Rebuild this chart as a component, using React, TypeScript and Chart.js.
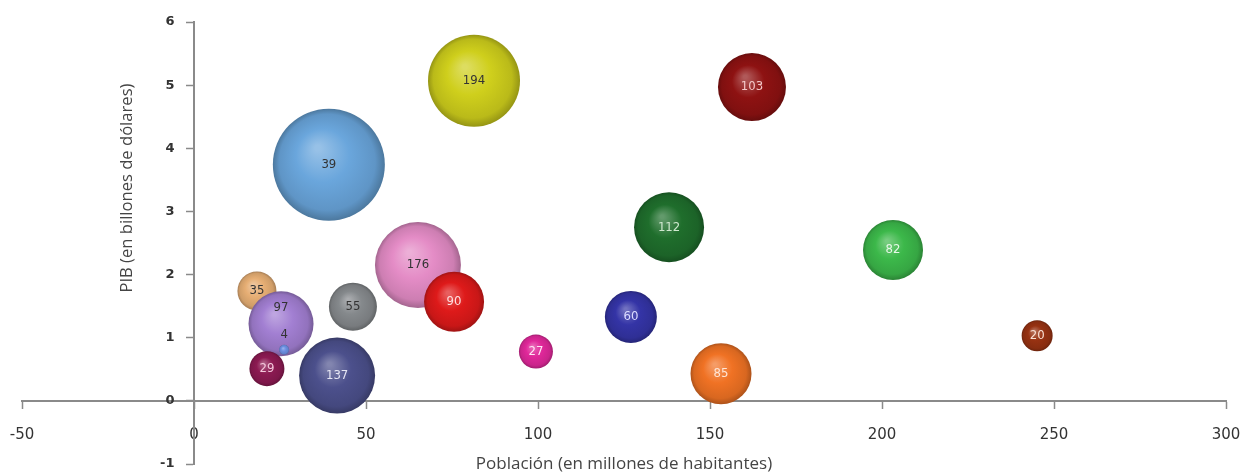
import React, { useEffect, useRef } from "react";
import { Chart, registerables } from "chart.js";

Chart.register(...registerables);

// ---- data ----
const etiquetas = ["194", "103", "39", "112", "82", "176", "35", "97", "4", "55", "90", "60", "27", "29", "137", "85", "20"];
const poblacion = [81.4, 162.2, 39.2, 138.1, 203.2, 65.1, 18.3, 25.3, 26.2, 46.2, 75.6, 127.0, 99.4, 21.2, 41.6, 153.2, 245.1];
const pib = [5.07, 4.97, 3.74, 2.75, 2.39, 2.15, 1.74, 1.22, 0.81, 1.49, 1.57, 1.33, 0.78, 0.51, 0.4, 0.43, 1.03];
const tamanos = [46, 34, 56, 35, 30, 43, 19.5, 32.5, 5, 24, 30, 26, 17, 17.5, 38, 30.5, 15.5];

const xTicks = [-50, 0, 50, 100, 150, 200, 250, 300];
const yTicks = [-1, 0, 1, 2, 3, 4, 5, 6];

const xTitulo = "Población (en millones de habitantes)";
const yTitulo = "PIB (en billones de dólares)";

// ---- styles ----
const colores = [
  "#cfcf1c", "#8e1212", "#6aa6dc", "#1f6e2c", "#3cb84a", "#e48cc6", "#e6ae74", "#a27fd2", "#6c8fe2",
  "#85898c", "#de1a1a", "#3434a6", "#e0289a", "#8c1a52", "#4c508c", "#f07224", "#973212",
];
const coloresTexto = [
  "#333", "#f4c8c8", "#333", "#cfe8cf", "#e8f8e8", "#333", "#333", "#333", "#333",
  "#333", "#ffe0e0", "#dcdcff", "#ffe6f4", "#f4c8dc", "#e6e6f4", "#ffe6d6", "#f8e0d4",
];

function hexToRgb(h: string) {
  const v = parseInt(h.slice(1), 16);
  return [(v >> 16) & 255, (v >> 8) & 255, v & 255];
}
function mix(h: string, target: number, t: number) {
  const [r, g, b] = hexToRgb(h);
  const f = (c: number) => Math.round(c + (target - c) * t);
  return `rgb(${f(r)},${f(g)},${f(b)})`;
}

const etiquetasPlugin = {
  id: "etiquetasBurbujas",
  afterDatasetsDraw(chart: any) {
    const meta = chart.getDatasetMeta(0);
    const ctx = chart.ctx;
    const els = meta.data;
    ctx.save();
    ctx.font = "13px 'DejaVu Sans Condensed', 'DejaVu Sans', sans-serif";
    ctx.textAlign = "center";
    ctx.textBaseline = "middle";
    els.forEach((el: any, i: number) => {
      const r = el.options.radius;
      let y = el.y;
      if (r < 8) {
        y = el.y - r - 10;
      } else {
        const contieneChica = els.some(
          (o: any, j: number) => j !== i && o.options.radius < 8 && Math.hypot(o.x - el.x, o.y - el.y) < r
        );
        if (contieneChica) y = el.y - r * 0.5;
      }
      ctx.fillStyle = coloresTexto[i];
      ctx.fillText(etiquetas[i], el.x, y);
    });
    ctx.restore();
  },
};

const tituloYPlugin = {
  id: "tituloY",
  afterDraw(chart: any) {
    const { ctx, scales } = chart;
    const x = scales.x.getPixelForValue(0) - 67;
    const y = scales.y.getPixelForValue(3.37);
    ctx.save();
    ctx.translate(x, y);
    ctx.rotate(-Math.PI / 2);
    ctx.font = "16.6px 'Open Sans', sans-serif";
    ctx.fillStyle = "#444";
    ctx.textAlign = "center";
    ctx.textBaseline = "middle";
    ctx.fillText(yTitulo, 0, 0);
    ctx.restore();
  },
};

const sinRelleno = (scale: any) => {
  scale.paddingLeft = 0;
  scale.paddingRight = 0;
  scale.paddingTop = 0;
  scale.paddingBottom = 0;
};

export default function App() {
  const ref = useRef<HTMLCanvasElement | null>(null);

  useEffect(() => {
    if (!ref.current) return;
    const puntos = poblacion.map((x, i) => ({ x, y: pib[i], r: tamanos[i] }));
    const chart = new Chart(ref.current, {
      type: "bubble",
      data: {
        datasets: [
          {
            label: "Países",
            data: puntos,
            borderWidth: 0,
            backgroundColor: (c: any) => {
              const i = c.dataIndex;
              const base = colores[i] || "#888";
              const chart = c.chart;
              const raw = c.raw;
              if (!raw || !chart.chartArea || !chart.scales.x) return base;
              const cx = chart.scales.x.getPixelForValue(raw.x);
              const cy = chart.scales.y.getPixelForValue(raw.y);
              const r = raw.r;
              const g = chart.ctx.createRadialGradient(cx - r * 0.2, cy - r * 0.3, r * 0.05, cx, cy, r);
              g.addColorStop(0, mix(base, 255, 0.3));
              g.addColorStop(0.45, base);
              g.addColorStop(0.85, mix(base, 0, 0.1));
              g.addColorStop(1, mix(base, 0, 0.28));
              return g;
            },
          },
        ],
      },
      options: {
        animation: false,
        responsive: true,
        maintainAspectRatio: false,
        layout: { autoPadding: false, padding: { left: 22, right: 14, top: 22, bottom: 12 } } as any,
        plugins: { legend: { display: false }, tooltip: { enabled: false } },
        scales: {
          x: {
            type: "linear",
            position: { y: 0 } as any,
            min: xTicks[0],
            max: xTicks[xTicks.length - 1],
            afterFit: sinRelleno,
            ticks: {
              stepSize: xTicks[1] - xTicks[0],
              padding: 18,
              color: "#333",
              font: { family: "'DejaVu Sans', sans-serif", size: 15 },
              maxRotation: 0,
            },
            grid: { drawOnChartArea: false, drawTicks: true, tickLength: 7, color: "#8a8a8a", tickWidth: 1.5 },
            border: { display: true, color: "#8a8a8a", width: 2 },
            title: {
              display: true,
              text: xTitulo,
              color: "#444",
              font: { family: "'Open Sans', sans-serif", size: 17 },
              padding: { top: -8, bottom: 0 },
            },
          },
          y: {
            type: "linear",
            position: { x: 0 } as any,
            min: yTicks[0],
            max: yTicks[yTicks.length - 1],
            afterFit: sinRelleno,
            ticks: {
              stepSize: yTicks[1] - yTicks[0],
              padding: 0,
              color: "#333",
              font: { family: "'DejaVu Sans', sans-serif", size: 13, weight: "bold" },
              callback: (v: any) => String(v) + "\u2002\u2002\u2002",
            },
            grid: { drawOnChartArea: false, drawTicks: true, tickLength: 7, color: "#8a8a8a", tickWidth: 1.5 },
            border: { display: true, color: "#8a8a8a", width: 2 },
          },
        },
      },
      plugins: [etiquetasPlugin, tituloYPlugin],
    });
    return () => chart.destroy();
  }, []);

  return (
    <div style={{ position: "absolute", left: 0, top: 0, width: 1240, height: 476, background: "#fff" }}>
      <canvas ref={ref} />
    </div>
  );
}
